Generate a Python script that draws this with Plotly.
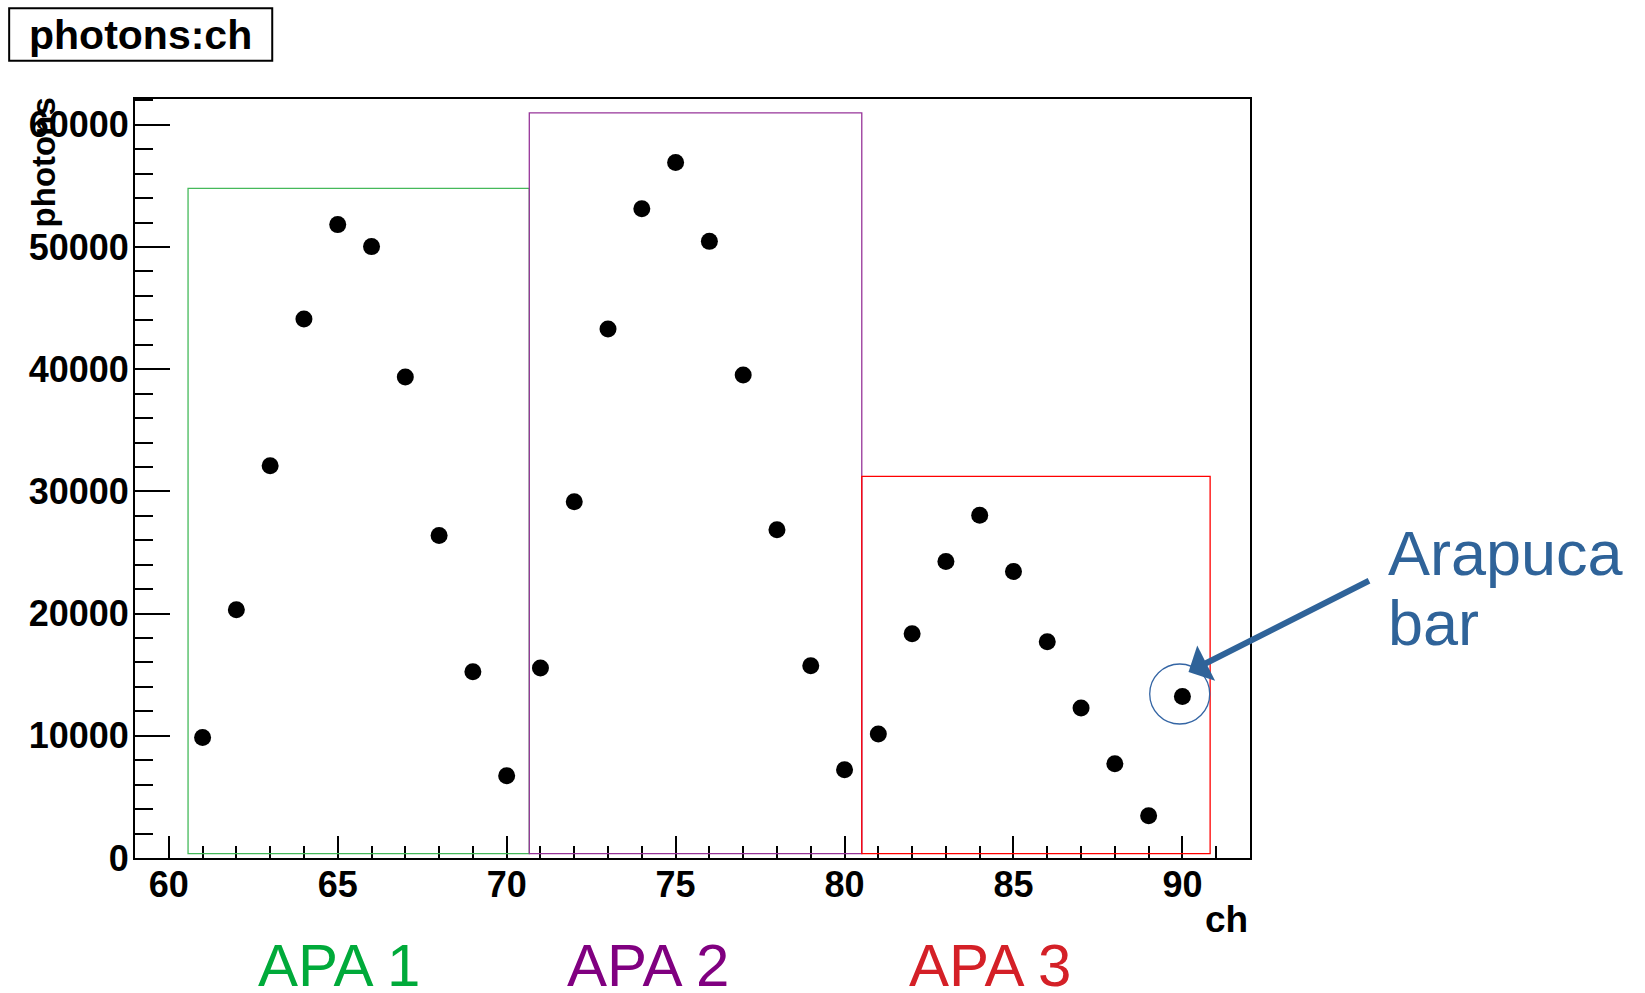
import plotly.graph_objects as go

# ---- data ----
channels = list(range(61, 91))
photons = [9870, 20320, 32100, 44110, 51830, 50030, 39360, 26400, 15250, 6740,
           15550, 29160, 43290, 53130, 56920, 50460, 39530, 26870, 15740, 7230,
           10150, 18360, 24270, 28040, 23450, 17700, 12280, 7720, 3460, 13220]

apa_names = ["APA 1", "APA 2", "APA 3"]
apa_x0 = [60.57, 70.67, 80.51]
apa_x1 = [70.67, 80.51, 90.82]
apa_top = [54800, 60970, 31230]
apa_bottom = [350, 350, 350]
apa_box_colors = ["#45b95a", "#973599", "#ff0000"]
apa_text_colors = ["#00aa3a", "#800080", "#d42027"]
apa_label_px = [339, 648, 990]

highlight_ch = 90
highlight_val = 13320

# ---- layout geometry (pixels) ----
W, H = 1645, 993
L, R, T, B = 135.3, 1250.0, 99.3, 858.3
PW, PH = R - L, B - T


def px(xp):
    return (xp - L) / PW


def py(yp):
    return (B - yp) / PH


FONT = "Liberation Sans, Arial, sans-serif"

fig = go.Figure()
fig.add_trace(go.Scatter(
    x=channels, y=photons, mode="markers",
    marker=dict(color="black", size=17, symbol="circle"),
    showlegend=False, cliponaxis=False,
))

shapes = []
for x0, x1, y0, y1, c in zip(apa_x0, apa_x1, apa_bottom, apa_top, apa_box_colors):
    shapes.append(dict(type="rect", xref="x", yref="y", x0=x0, x1=x1, y0=y0, y1=y1,
                       line=dict(color=c, width=1.3), layer="above"))

# circle around highlighted point
shapes.append(dict(type="circle", xref="x", yref="y", xsizemode="pixel", ysizemode="pixel",
                   xanchor=highlight_ch - 0.08, yanchor=highlight_val + 100,
                   x0=-30, x1=30, y0=-30, y1=30,
                   line=dict(color="#3465a4", width=1.3), layer="above"))

# title box
shapes.append(dict(type="rect", xref="paper", yref="paper",
                   x0=px(9.5), x1=px(272.5), y0=py(61), y1=py(8.5),
                   line=dict(color="black", width=2)))

annotations = []
annotations.append(dict(text="photons:ch", xref="paper", yref="paper",
                        x=px(141), y=py(35), xanchor="center", yanchor="middle",
                        showarrow=False, font=dict(family=FONT, size=41, color="black", weight="bold")))
annotations.append(dict(text="photons", xref="paper", yref="paper",
                        x=px(44), y=py(163), xanchor="center", yanchor="middle", textangle=-90,
                        showarrow=False, font=dict(family=FONT, size=33, color="black", weight="bold")))
annotations.append(dict(text="ch", xref="paper", yref="paper",
                        x=1.0, y=py(920), xanchor="right", yanchor="middle",
                        showarrow=False, font=dict(family=FONT, size=37, color="black", weight="bold")))
for name, xc, col in zip(apa_names, apa_label_px, apa_text_colors):
    annotations.append(dict(text=name, xref="paper", yref="paper",
                            x=px(xc), y=py(966), xanchor="center", yanchor="middle",
                            showarrow=False, font=dict(family=FONT, size=60, color=col)))
annotations.append(dict(text="Arapuca", xref="paper", yref="paper",
                        x=px(1386), y=py(553), xanchor="left", yanchor="middle",
                        showarrow=False, font=dict(family=FONT, size=63, color="#2f6399")))
annotations.append(dict(text="bar", xref="paper", yref="paper",
                        x=px(1386), y=py(623), xanchor="left", yanchor="middle",
                        showarrow=False, font=dict(family=FONT, size=63, color="#2f6399")))
# arrow
annotations.append(dict(text="", xref="x", yref="y", x=90.18, y=15220,
                        ax=182, ay=-92, showarrow=True, arrowhead=1, arrowsize=1.1,
                        arrowwidth=6, arrowcolor="#2f6399", standoff=0))

fig.update_layout(
    width=W, height=H,
    margin=dict(l=L, r=W - R, t=T, b=H - B, pad=0),
    paper_bgcolor="white", plot_bgcolor="white",
    shapes=shapes, annotations=annotations,
    font=dict(family=FONT),
    xaxis=dict(range=[59, 92], tick0=60, dtick=5, ticks="inside", ticklen=22, tickwidth=2,
               tickcolor="black", showline=True, linecolor="black", linewidth=2, mirror=True,
               showgrid=False, zeroline=False, ticklabelstandoff=-6,
               tickfont=dict(family=FONT, size=36, color="black", weight="bold"),
               minor=dict(dtick=1, tick0=60, ticks="inside", ticklen=12, tickwidth=2, tickcolor="black",
                          showgrid=False)),
    yaxis=dict(range=[0, 62110], tick0=0, dtick=10000, ticks="inside", ticklen=35, tickwidth=2,
               tickcolor="black", showline=True, linecolor="black", linewidth=2, mirror=True,
               showgrid=False, zeroline=False, ticklabelstandoff=-3,
               tickformat="d", exponentformat="none", separatethousands=False,
               tickfont=dict(family=FONT, size=36, color="black", weight="bold"),
               minor=dict(dtick=2000, tick0=0, ticks="inside", ticklen=18, tickwidth=2, tickcolor="black",
                          showgrid=False)),
)

fig.write_html("out.html")
